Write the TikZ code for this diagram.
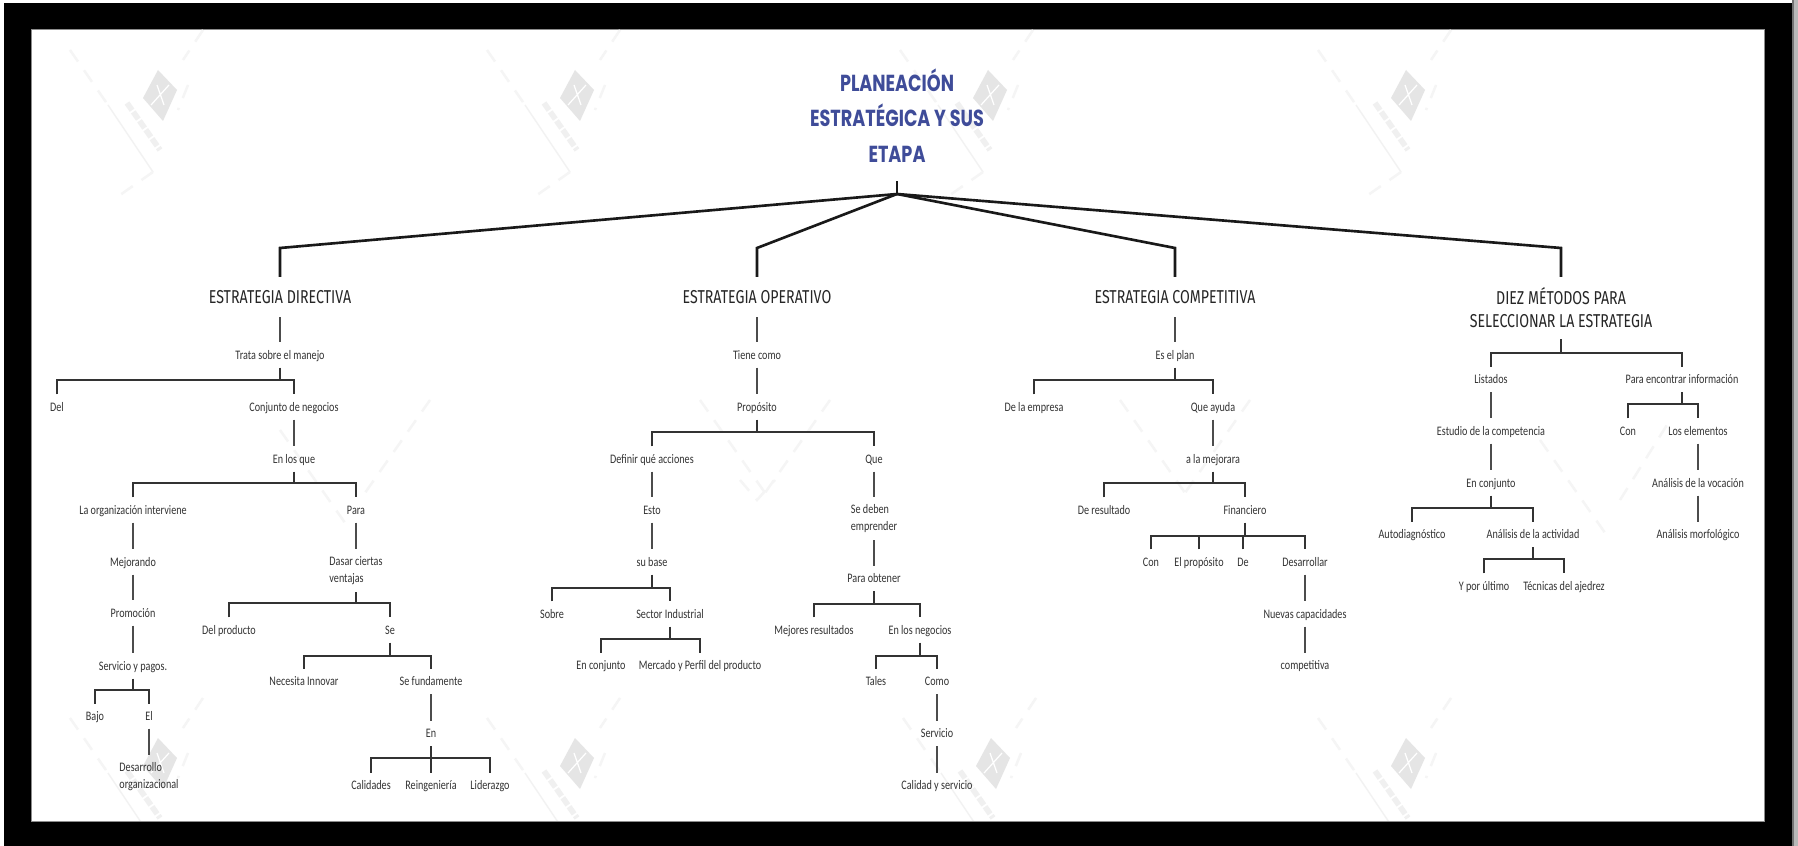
\documentclass[tikz,border=0pt]{standalone}
\usepackage{fontspec}
\setmainfont{Carlito}
\newfontfamily\titlefont[FakeStretch=0.76]{Poppins}
\newfontfamily\headfont[FakeStretch=0.76]{Fira Sans}
\newfontfamily\leaffont[FakeStretch=0.78]{Carlito}
\definecolor{titleblue}{HTML}{3F4C99}
\definecolor{inktext}{HTML}{333333}
\tikzset{leaf/.style={inner sep=0pt,outer sep=0pt,minimum height=0.25cm,text height=3.1pt,text depth=0.6pt,text=inktext,font=\leaffont\fontsize{3.7}{4.8}\selectfont}}
\tikzset{leaftwo/.style={leaf,text height={},text depth={},minimum height=0.43cm,align=left}}
\tikzset{head/.style={inner sep=0pt,outer sep=0pt,minimum height=0.40cm,align=center,text=black!85,font=\headfont\fontsize{5.3}{6.55}\selectfont}}
\tikzset{trunk/.style={line width=0.75pt,black!90}}
\tikzset{barline/.style={line width=0.5pt,black!80}}
\tikzset{stem/.style={line width=0.38pt,black!70}}
\tikzset{wfaint/.style={line width=0.7pt,black!4,dash pattern=on 4pt off 3pt}}
\newcommand{\splitlink}[4]{
	\draw[barline] (#1.south) -- (#1.south |- 0,#2);
	\draw[barline] (#3.north) -- (#3.north |- 0,#2) -- (#4.north |- 0,#2) -- (#4.north);
}
\newcommand{\wmark}[2]{
	\begin{scope}[shift={(#1,#2)}]
		\fill[black!10] (-2,-25) -- (17,-5) -- (3,26) -- (-17,3) -- cycle;
		\draw[white,line width=0.35pt] (-9,10) -- (9,-10) (-3,-10) -- (4,10);
		\draw[black!6,line width=1.6pt,dash pattern=on 2.5pt off 0.6pt] (-33,8) -- (0,55);
		\draw[black!5,line width=0.4pt] (-52,10) -- (-7,77);
		\draw[wfaint] (-90,-45) -- (-52,10) (-7,77) -- (-40,100);
		\draw[wfaint] (43,-65) -- (23,-35) (28,-10) -- (18,15);
	\end{scope}
}
\begin{document}
\begin{tikzpicture}[x=0.01cm,y=-0.01cm]
	\useasboundingbox (0,0) rectangle (1798,846);
	\fill[white] (0,0) rectangle (1798,846);
	\fill[black!55] (1792,0) rectangle (1794,846);
	\fill[black!28] (1794,0) rectangle (1798,846);
	\fill[black] (4,3) rectangle (1792,846);
	\draw[black!45,line width=0.2pt,fill=white] (31,29) rectangle (1764,821);
	% watermarks
	\begin{scope}
		\clip (31.5,29.5) rectangle (1763.5,820.5);
		\wmark{160}{95}
		\wmark{577}{95}
		\wmark{990}{95}
		\wmark{1408}{95}
		\wmark{160}{763}
		\wmark{577}{763}
		\wmark{993}{763}
		\wmark{1408}{763}
		\draw[wfaint] (700,400) -- (770,500) (830,400) -- (760,500) (740,480) -- (757,500) -- (775,480);
		\draw[wfaint] (1120,400) -- (1190,500) (1250,400) -- (1180,500);
		\draw[wfaint] (280,430) -- (350,530) (430,400) -- (360,500);
		\draw[wfaint] (1540,440) -- (1610,540) (1620,500) -- (1670,420);
	\end{scope}
	% title
	\node[inner sep=0pt,outer sep=0pt,minimum height=1.31cm,align=center,text=titleblue,font=\titlefont\bfseries\fontsize{6.6}{10.1}\selectfont] (titulo) at (897,115.5) {PLANEACIÓN\\ESTRATÉGICA Y SUS\\ETAPA};
	\coordinate (apex) at (897,194);
	\coordinate (kneedir) at (280,248);
	\coordinate (kneeope) at (757,248);
	\coordinate (kneecom) at (1175,248);
	\coordinate (kneedie) at (1561,248);
	% headings
	\node[head] (directiva) at (280,297) {ESTRATEGIA DIRECTIVA};
	\node[head] (operativo) at (757,297) {ESTRATEGIA OPERATIVO};
	\node[head] (competitiva) at (1175,297) {ESTRATEGIA COMPETITIVA};
	\node[head,minimum height=0.62cm] (diez) at (1561,308) {DIEZ MÉTODOS PARA\\SELECCIONAR LA ESTRATEGIA};
	\draw[trunk] (titulo.south) -- (apex);
	\draw[trunk] (apex) -- (kneedir) -- (directiva.north);
	\draw[trunk] (apex) -- (kneeope) -- (operativo.north);
	\draw[trunk] (apex) -- (kneecom) -- (competitiva.north);
	\draw[trunk] (apex) -- (kneedie) -- (diez.north);
	% directiva
	\node[leaf] (trata) at (280,355) {Trata sobre el manejo};
	\node[leaf] (del) at (57,407) {Del};
	\node[leaf] (conjneg) at (294,407) {Conjunto de negocios};
	\node[leaf] (enque) at (294,459) {En los que};
	\node[leaf] (organ) at (133,510) {La organización interviene};
	\node[leaf] (para) at (356,510) {Para};
	\node[leaf] (mejorando) at (133,562) {Mejorando};
	\node[leaf] (promo) at (133,613) {Promoción};
	\node[leaf] (pagos) at (133,666) {Servicio y pagos.};
	\node[leaf] (bajo) at (95,716) {Bajo};
	\node[leaf] (el) at (149,716) {El};
	\node[leaftwo] (desorg) at (149,776.5) {Desarrollo\\organizacional};
	\node[leaftwo] (dasar) at (356,570.5) {Dasar ciertas\\ventajas};
	\node[leaf] (delprod) at (229,630) {Del producto};
	\node[leaf] (se) at (390,630) {Se};
	\node[leaf] (innovar) at (304,681.5) {Necesita Innovar};
	\node[leaf] (sefund) at (431,681.5) {Se fundamente};
	\node[leaf] (en) at (431,733.5) {En};
	\node[leaf] (calidades) at (371,785) {Calidades};
	\node[leaf] (reing) at (431,785) {Reingeniería};
	\node[leaf] (lider) at (490,785) {Liderazgo};
	\draw[stem] (directiva.south) -- (trata.north);
	\splitlink{trata}{380}{del}{conjneg}
	\draw[stem] (conjneg.south) -- (enque.north);
	\splitlink{enque}{483}{organ}{para}
	\draw[stem] (organ.south) -- (mejorando.north);
	\draw[stem] (mejorando.south) -- (promo.north);
	\draw[stem] (promo.south) -- (pagos.north);
	\splitlink{pagos}{690}{bajo}{el}
	\draw[stem] (el.south) -- (desorg.north);
	\draw[stem] (para.south) -- (dasar.north);
	\splitlink{dasar}{603}{delprod}{se}
	\splitlink{se}{656}{innovar}{sefund}
	\draw[stem] (sefund.south) -- (en.north);
	\splitlink{en}{758}{calidades}{lider}
	\draw[barline] (reing.north) -- (reing.north |- 0,758);
	% operativo
	\node[leaf] (tiene) at (757,355) {Tiene como};
	\node[leaf] (propos) at (757,407) {Propósito};
	\node[leaf] (definir) at (652,459) {Definir qué acciones};
	\node[leaf] (que) at (874,459) {Que};
	\node[leaf] (esto) at (652,510) {Esto};
	\node[leaf] (subase) at (652,562) {su base};
	\node[leaf] (sobre) at (552,614) {Sobre};
	\node[leaf] (sector) at (670,614) {Sector Industrial};
	\node[leaf] (enconj) at (601,665.5) {En conjunto};
	\node[leaf] (mercado) at (700,665.5) {Mercado y Perfil del producto};
	\node[leaftwo] (deben) at (874,518.5) {Se deben\\emprender};
	\node[leaf] (paraobt) at (874,578.5) {Para obtener};
	\node[leaf] (mejores) at (814,630) {Mejores resultados};
	\node[leaf] (ennegoc) at (920,630) {En los negocios};
	\node[leaf] (tales) at (876,681.5) {Tales};
	\node[leaf] (como) at (937,681.5) {Como};
	\node[leaf] (servicio) at (937,733.5) {Servicio};
	\node[leaf] (calserv) at (937,785) {Calidad y servicio};
	\draw[stem] (operativo.south) -- (tiene.north);
	\draw[stem] (tiene.south) -- (propos.north);
	\splitlink{propos}{432}{definir}{que}
	\draw[stem] (definir.south) -- (esto.north);
	\draw[stem] (esto.south) -- (subase.north);
	\splitlink{subase}{588}{sobre}{sector}
	\splitlink{sector}{639}{enconj}{mercado}
	\draw[stem] (que.south) -- (deben.north);
	\draw[stem] (deben.south) -- (paraobt.north);
	\splitlink{paraobt}{604}{mejores}{ennegoc}
	\splitlink{ennegoc}{656}{tales}{como}
	\draw[stem] (como.south) -- (servicio.north);
	\draw[stem] (servicio.south) -- (calserv.north);
	% competitiva
	\node[leaf] (esplan) at (1175,355) {Es el plan};
	\node[leaf] (empresa) at (1034,407) {De la empresa};
	\node[leaf] (ayuda) at (1213,407) {Que ayuda};
	\node[leaf] (mejorara) at (1213,459) {a la mejorara};
	\node[leaf] (resultado) at (1104,510) {De resultado};
	\node[leaf] (financ) at (1245,510) {Financiero};
	\node[leaf] (concom) at (1151,562) {Con};
	\node[leaf] (elprop) at (1199,562) {El propósito};
	\node[leaf] (decom) at (1243,562) {De};
	\node[leaf] (desarr) at (1305,562) {Desarrollar};
	\node[leaf] (nuevas) at (1305,614) {Nuevas capacidades};
	\node[leaf] (compet) at (1305,665.5) {competitiva};
	\draw[stem] (competitiva.south) -- (esplan.north);
	\splitlink{esplan}{380}{empresa}{ayuda}
	\draw[stem] (ayuda.south) -- (mejorara.north);
	\splitlink{mejorara}{483}{resultado}{financ}
	\splitlink{financ}{536}{concom}{desarr}
	\draw[barline] (elprop.north) -- (elprop.north |- 0,536);
	\draw[barline] (decom.north) -- (decom.north |- 0,536);
	\draw[stem] (desarr.south) -- (nuevas.north);
	\draw[stem] (nuevas.south) -- (compet.north);
	% diez
	\node[leaf] (listados) at (1491,379.5) {Listados};
	\node[leaf] (encontrar) at (1682,379.5) {Para encontrar información};
	\node[leaf] (estudio) at (1491,431) {Estudio de la competencia};
	\node[leaf] (conjdie) at (1491,483) {En conjunto};
	\node[leaf] (autod) at (1412,534.5) {Autodiagnóstico};
	\node[leaf] (activ) at (1533,534.5) {Análisis de la actividad};
	\node[leaf] (ultimo) at (1484,586) {Y por último};
	\node[leaf] (ajedrez) at (1564,586) {Técnicas del ajedrez};
	\node[leaf] (condie) at (1628,431) {Con};
	\node[leaf] (elementos) at (1698,431) {Los elementos};
	\node[leaf] (vocacion) at (1698,483) {Análisis de la vocación};
	\node[leaf] (morfo) at (1698,534.5) {Análisis morfológico};
	\splitlink{diez}{353}{listados}{encontrar}
	\draw[stem] (listados.south) -- (estudio.north);
	\draw[stem] (estudio.south) -- (conjdie.north);
	\splitlink{conjdie}{508}{autod}{activ}
	\splitlink{activ}{559}{ultimo}{ajedrez}
	\splitlink{encontrar}{404}{condie}{elementos}
	\draw[stem] (elementos.south) -- (vocacion.north);
	\draw[stem] (vocacion.south) -- (morfo.north);
\end{tikzpicture}
\end{document}
